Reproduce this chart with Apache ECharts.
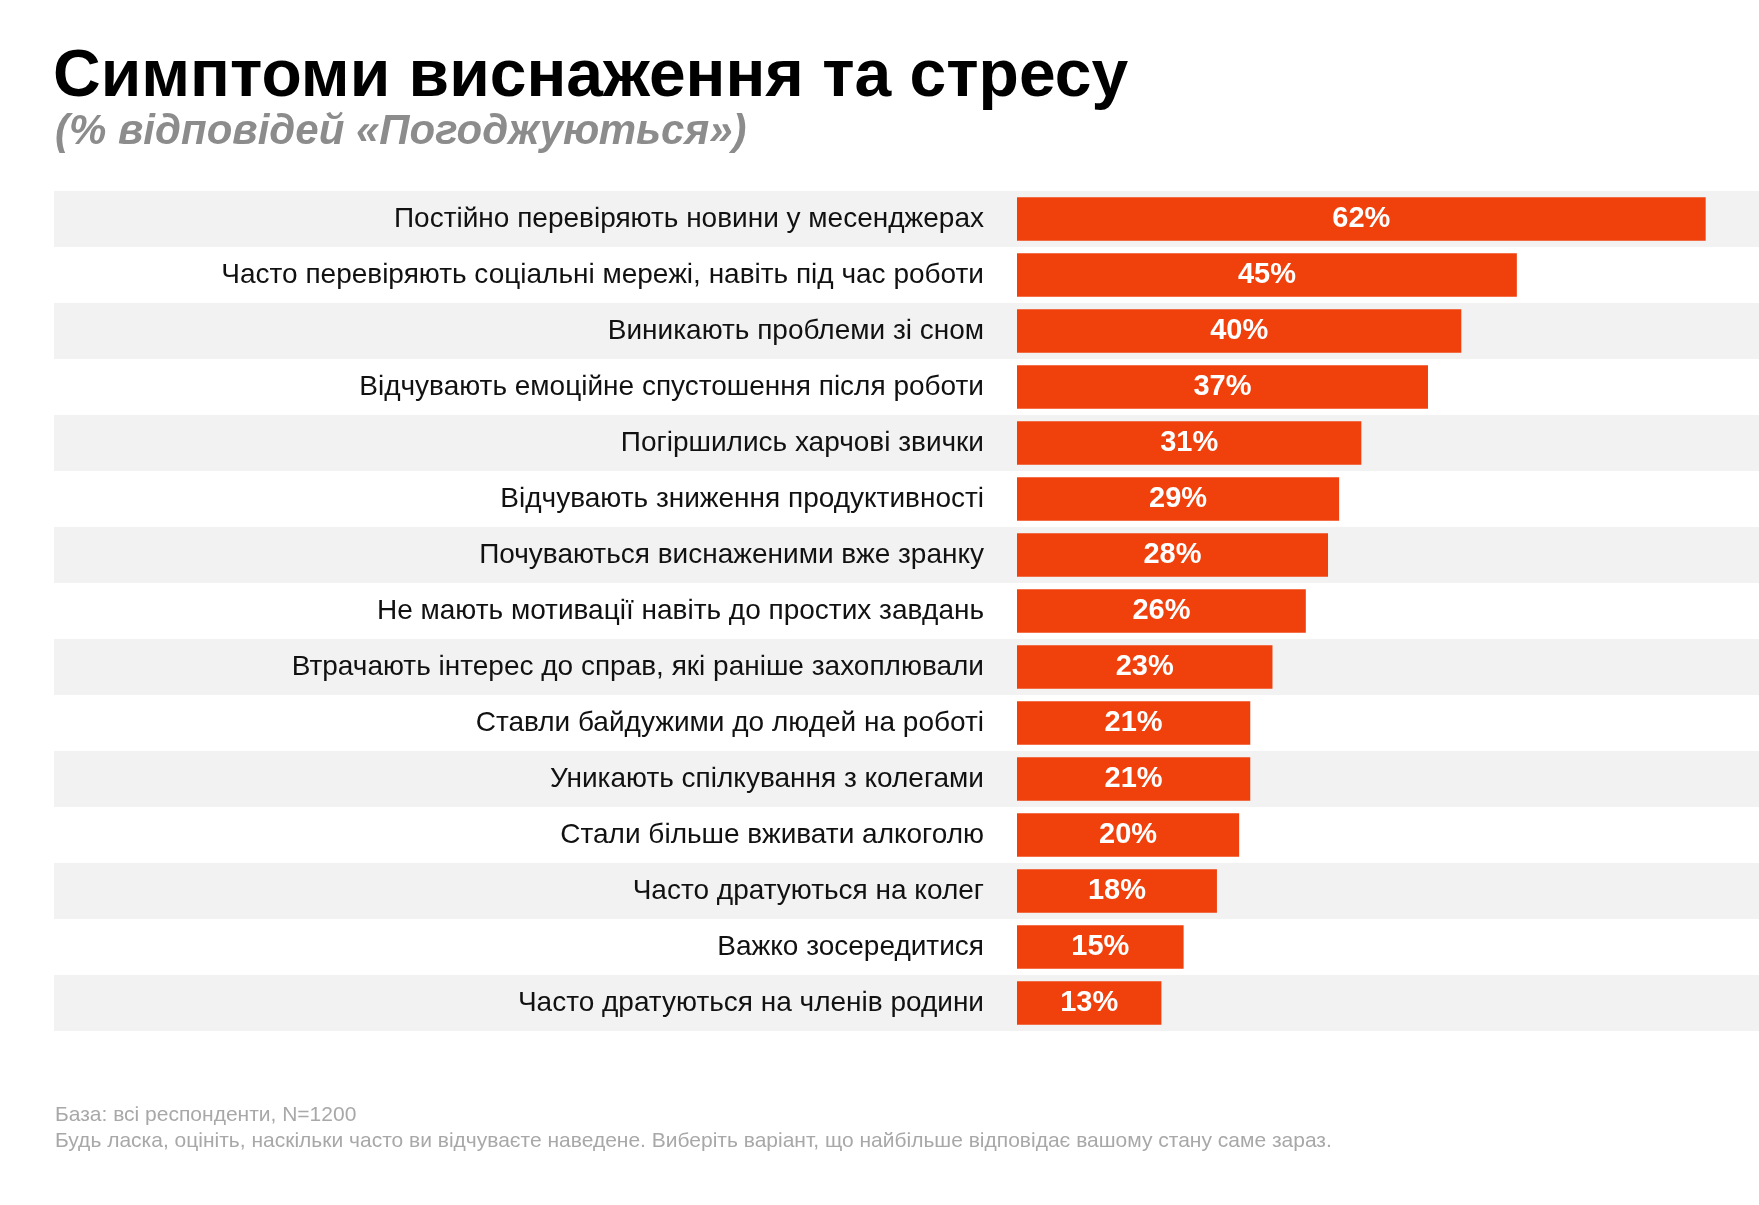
<!DOCTYPE html>
<html>
<head>
<meta charset="utf-8">
<script src="https://cdn.jsdelivr.net/npm/echarts@6/dist/echarts.min.js"></script>
<style>
  html, body { margin: 0; padding: 0; background: #fff; }
  #chart { width: 1759px; height: 1205px; }
</style>
</head>
<body>
<div id="chart"></div>
<script>
// Дані
const categories = [
    'Постійно перевіряють новини у месенджерах',
    'Часто перевіряють соціальні мережі, навіть під час роботи',
    'Виникають проблеми зі сном',
    'Відчувають емоційне спустошення після роботи',
    'Погіршились харчові звички',
    'Відчувають зниження продуктивності',
    'Почуваються виснаженими вже зранку',
    'Не мають мотивації навіть до простих завдань',
    'Втрачають інтерес до справ, які раніше захоплювали',
    'Ставли байдужими до людей на роботі',
    'Уникають спілкування з колегами',
    'Стали більше вживати алкоголю',
    'Часто дратуються на колег',
    'Важко зосередитися',
    'Часто дратуються на членів родини'
];
const values = [62, 45, 40, 37, 31, 29, 28, 26, 23, 21, 21, 20, 18, 15, 13];

const titleText = 'Симптоми виснаження та стресу';
const subtitleText = '(% відповідей «Погоджуються»)';
const noteLines = [
    'База: всі респонденти, N=1200',
    'Будь ласка, оцініть, наскільки часто ви відчуваєте наведене. Виберіть варіант, що найбільше відповідає вашому стану саме зараз.'
];

const COLORS = {
    bar: '#f0400c',
    band: '#f2f2f2',
    text: '#111111',
    subtitle: '#8c8c8c',
    note: '#a8a8a8'
};

const FONT = '"Liberation Sans", Arial, Helvetica, sans-serif';

const chart = echarts.init(document.getElementById('chart'));

const option = {
    backgroundColor: '#ffffff',
    animation: false,
    title: [
        {
            text: titleText,
            left: 48,
            top: 40,
            textStyle: { fontFamily: FONT, fontSize: 66, fontWeight: 'bold', color: '#000' }
        },
        {
            text: subtitleText,
            left: 50,
            top: 106,
            textStyle: { fontFamily: FONT, fontSize: 42, fontWeight: 'bold', fontStyle: 'italic', color: COLORS.subtitle }
        },
        {
            text: noteLines.join('\n'),
            left: 50,
            top: 1097,
            textStyle: { fontFamily: FONT, fontSize: 21, fontWeight: 'normal', color: COLORS.note, lineHeight: 26 }
        }
    ],
    grid: [
        // смуги фону
        { left: 54, right: 0, top: 191, height: 840 },
        // стовпчики
        { left: 1017, right: 0, top: 191, height: 840 }
    ],
    xAxis: [
        { gridIndex: 0, type: 'value', min: 0, max: 100, show: false },
        { gridIndex: 1, type: 'value', min: 0, max: 66.8, show: false }
    ],
    yAxis: [
        {
            gridIndex: 0,
            type: 'category',
            inverse: true,
            data: categories,
            axisLine: { show: false },
            axisTick: { show: false },
            axisLabel: { show: false },
            splitArea: { show: true, areaStyle: { color: [COLORS.band, '#ffffff'] } }
        },
        {
            gridIndex: 1,
            type: 'category',
            inverse: true,
            data: categories,
            axisLine: { show: false },
            axisTick: { show: false },
            axisLabel: {
                margin: 33,
                fontFamily: FONT,
                fontSize: 28,
                color: COLORS.text
            }
        }
    ],
    series: [
        {
            type: 'bar',
            xAxisIndex: 0,
            yAxisIndex: 0,
            data: categories.map(() => 0),
            silent: true
        },
        {
            type: 'bar',
            xAxisIndex: 1,
            yAxisIndex: 1,
            data: values,
            barWidth: '78%',
            itemStyle: { color: COLORS.bar },
            label: {
                show: true,
                position: 'inside',
                formatter: '{c}%',
                fontFamily: '"Liberation Sans Narrow", ' + FONT,
                fontSize: 29,
                fontWeight: 'bold',
                color: '#ffffff'
            }
        }
    ]
};

chart.setOption(option);
</script>
</body>
</html>
